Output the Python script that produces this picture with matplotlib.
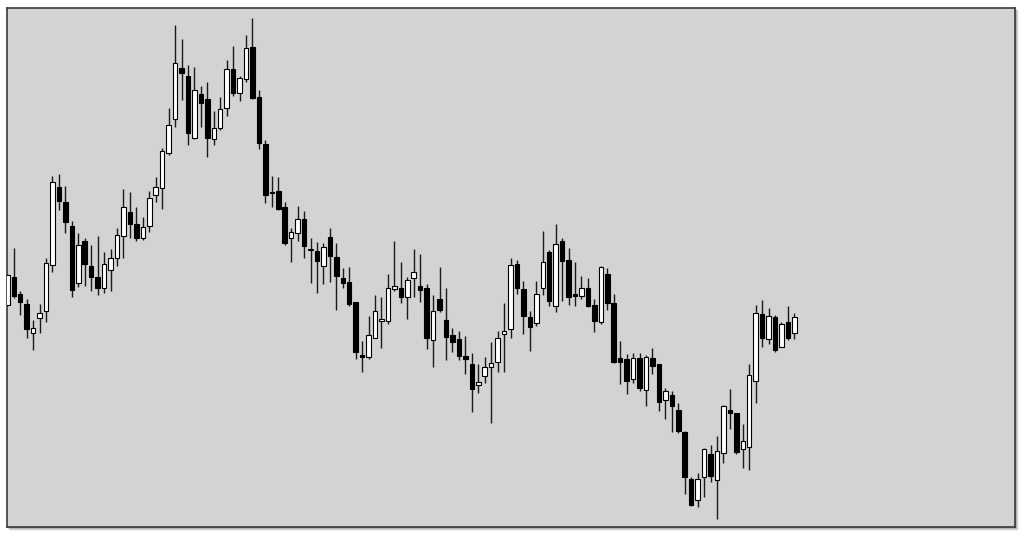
import matplotlib
matplotlib.use('Agg')
import matplotlib.pyplot as plt
from matplotlib.patches import Rectangle

# ---------------------------------------------------------------
# DADOS (OHLC, unidades arbitrárias de preço)

abertura = [295, 323, 306, 296, 267, 282, 289, 335, 413, 398,
            374, 317, 359, 334, 323, 312, 330, 342, 364, 388,
            376, 362, 374, 405, 412, 447, 481, 532, 524, 462,
            506, 501, 461, 472, 492, 531, 507, 521, 553, 503,
            456, 408, 409, 393, 362, 367, 381, 351, 349, 334,
            363, 343, 322, 318, 298, 245, 243, 262, 279, 279,
            311, 312, 303, 322, 314, 312, 260, 301, 280, 265,
            261, 244, 236, 215, 224, 233, 238, 266, 271, 336,
            311, 283, 277, 312, 348, 294, 359, 340, 306, 304,
            312, 295, 278, 326, 297, 242, 241, 221, 242, 210,
            242, 236, 200, 205, 190, 168, 121, 100, 123, 146,
            120, 147, 190, 187, 151, 153, 219, 286, 261, 283,
            253, 278, 267]
maxima = [326, 352, 309, 301, 280, 296, 342, 424, 426, 414,
          379, 367, 362, 355, 364, 348, 351, 372, 411, 408,
          393, 383, 409, 423, 452, 492, 575, 561, 535, 533,
          514, 518, 489, 503, 540, 554, 524, 565, 582, 510,
          460, 424, 423, 398, 372, 394, 389, 362, 358, 357,
          372, 357, 332, 333, 298, 259, 284, 305, 303, 326,
          359, 338, 323, 351, 346, 316, 305, 333, 312, 272,
          269, 264, 247, 236, 243, 258, 269, 297, 342, 340,
          319, 289, 319, 369, 350, 376, 362, 352, 338, 324,
          322, 301, 334, 332, 306, 259, 246, 247, 247, 245,
          252, 236, 212, 209, 197, 169, 123, 127, 152, 155,
          164, 195, 211, 187, 176, 236, 295, 300, 292, 285,
          278, 294, 287]
minimas = [294, 302, 285, 262, 250, 267, 278, 328, 390, 367,
           303, 313, 314, 309, 305, 307, 309, 334, 342, 362,
           359, 360, 368, 398, 391, 445, 473, 500, 455, 461,
           473, 443, 455, 470, 484, 504, 499, 518, 501, 451,
           397, 393, 390, 355, 338, 359, 342, 317, 307, 316,
           318, 290, 312, 294, 241, 228, 241, 262, 252, 276,
           309, 297, 281, 303, 298, 251, 233, 288, 240, 248,
           240, 226, 188, 207, 217, 177, 228, 228, 262, 306,
           266, 249, 274, 305, 294, 288, 299, 295, 294, 301,
           293, 268, 276, 290, 237, 216, 206, 217, 209, 194,
           226, 189, 181, 168, 167, 106, 94, 93, 103, 118,
           81, 137, 171, 146, 132, 130, 197, 253, 256, 248,
           253, 260, 261]
fechamento = [325, 304, 298, 271, 272, 287, 337, 418, 399, 378,
              310, 355, 336, 323, 312, 336, 342, 365, 393, 376,
              362, 373, 402, 413, 449, 475, 537, 527, 467, 510,
              497, 462, 472, 491, 531, 507, 522, 552, 502, 457,
              405, 407, 391, 357, 368, 381, 354, 350, 339, 353,
              344, 324, 317, 296, 248, 243, 265, 289, 281, 312,
              314, 303, 320, 328, 310, 262, 289, 290, 263, 258,
              244, 241, 211, 218, 233, 237, 262, 269, 335, 312,
              284, 273, 306, 338, 299, 356, 339, 303, 304, 312,
              294, 279, 333, 297, 238, 238, 219, 242, 212, 243,
              234, 198, 209, 194, 169, 123, 95, 121, 151, 124,
              149, 194, 187, 148, 159, 225, 287, 262, 284, 250,
              276, 262, 283]

# ---------------------------------------------------------------
# FIGURA

fig = plt.figure(figsize=(10.24, 5.36), dpi=100, facecolor='white')

# Posição do painel (pixels -> fração da figura)
esq, dir_, topo, base = 7, 1015, 8, 527
pos = [esq/1024, 1 - base/536, (dir_ - esq)/1024, (base - topo)/536]

# Sombra suave atrás do painel
for k, a in [(4, 0.06), (3, 0.10), (2, 0.16), (1, 0.22)]:
    fig.patches.append(Rectangle(
        ((esq + k - 1)/1024, 1 - (base + k)/536),
        (dir_ - esq + 1)/1024, (base - topo + 1)/536,
        transform=fig.transFigure, facecolor='black', alpha=a,
        edgecolor='none', zorder=0))

ax = fig.add_axes(pos, facecolor='#d3d3d3', zorder=1)

n = len(abertura)
for i in range(n):
    o, h, l, c = abertura[i], maxima[i], minimas[i], fechamento[i]
    ax.vlines(i, l, h, color='#1a1a1a', linewidth=1.0, zorder=2)
    alta = c >= o
    ax.bar(i, abs(c - o), bottom=min(o, c), width=0.7,
           color='white' if alta else 'black',
           edgecolor='black', linewidth=0.8, zorder=3)

ax.set_xlim(-0.05, 156.2)
ax.set_ylim(73, 592)
ax.set_xticks([])
ax.set_yticks([])
for s in ax.spines.values():
    s.set_color('#3a3a3a')
    s.set_linewidth(1.2)

plt.savefig('out.png', dpi=100, facecolor='white')
